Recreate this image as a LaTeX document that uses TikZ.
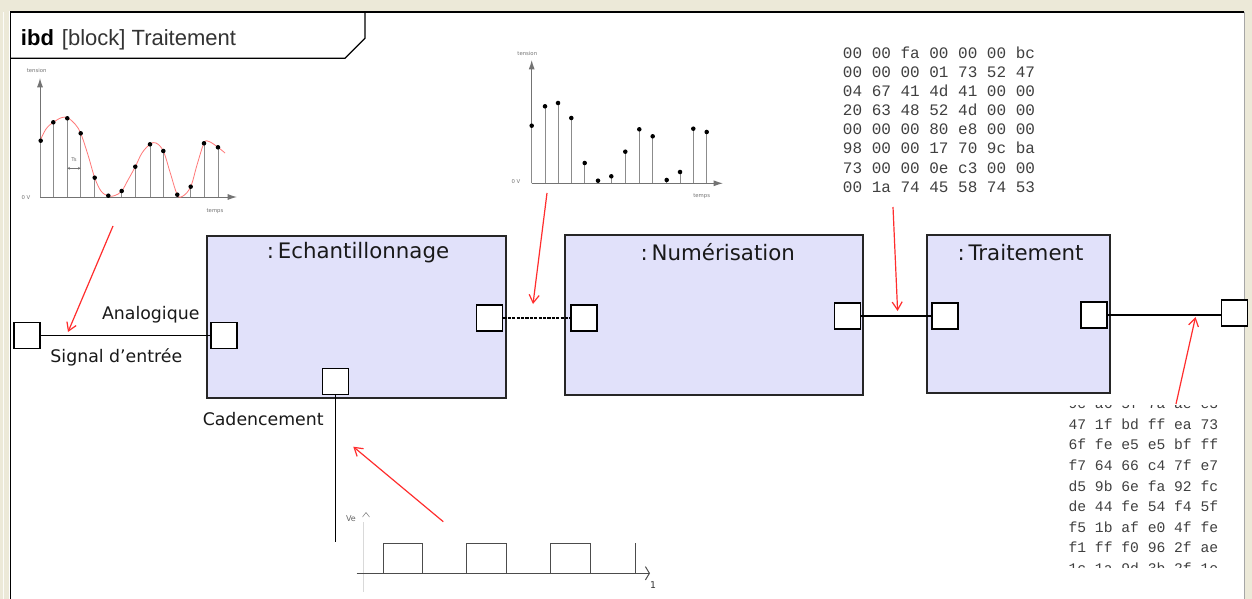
\documentclass[tikz,border=0pt]{standalone}
\usepackage{fontspec}
\setmainfont{DejaVu Sans}
\newfontfamily\hdrfont{Liberation Sans}
\newfontfamily\hexfont{Liberation Mono}
\usetikzlibrary{arrows.meta,fit}
\definecolor{winbg}{HTML}{ECE9D8}
\definecolor{blockfill}{RGB}{225,225,250}
\definecolor{annot}{RGB}{255,45,45}
\definecolor{sinecol}{RGB}{255,120,120}
\begin{document}
\begin{tikzpicture}[x=0.75pt,y=-0.75pt,
  block/.style={draw=black!85, line width=1.1pt, fill=blockfill, inner sep=0pt},
  port/.style={draw=black, line width=1.1pt, fill=white, minimum size=19.5pt, inner sep=0pt},
  conn/.style={draw=black, line width=1.1pt},
  note/.style={draw=annot, line width=0.9pt, -{Straight Barb[length=6pt,width=7.5pt]}},
  axisline/.style={draw=black!55, line width=0.75pt},
  axisarrow/.style={-{Latex[length=7pt,width=4.5pt]}},
  stem/.style={draw=black!45, line width=0.6pt},
  tiny/.style={font=\fontsize{4}{4}\selectfont, text=black!55, inner sep=0pt},
  title/.style={font=\fontsize{16}{19}\selectfont, text=black!90, inner sep=0pt},
  plabel/.style={font=\fontsize{13}{15}\selectfont, text=black!90, inner sep=0pt},
  hextop/.style={font=\hexfont\fontsize{12}{14}\selectfont, text=black!75, inner sep=0pt, anchor=base west},
  hexbot/.style={font=\hexfont\fontsize{11}{13}\selectfont, text=black!75, inner sep=0pt, anchor=base west},
  wave/.style={draw=black!70, line width=0.75pt},
]
\useasboundingbox (0,0) rectangle (1252,599);
% window background
\fill[white] (0,0) rectangle (1252,599);
\fill[winbg] (0,0) rectangle (1252,11);
\fill[winbg] (0,0) rectangle (9,599);
\fill[winbg] (1244,0) rectangle (1252,599);
\draw[white!85!winbg, line width=0.75pt] (3.5,12) -- (3.5,599);
% frame
\draw[black, line width=1.5pt] (10,12.5) -- (1244,12.5);
\draw[black, line width=1.1pt] (10.5,12) -- (10.5,599);
\draw[black!35, line width=0.75pt] (1244,12) -- (1244,599);
% header tab
\draw[black, line width=1pt] (10,58.3) -- (345,58.3) -- (365,38.3) -- (365,12.5);
\node[font=\hdrfont\bfseries\fontsize{16.5}{18}\selectfont, anchor=base west, inner sep=0pt] (ibd) at (20.7,46) {ibd};
\node[font=\hdrfont\fontsize{16.5}{18}\selectfont, text=black!80, anchor=base west, inner sep=0pt] (hdr) at (61.7,46) {[block] Traitement};

% ---------- analog graph (top left) ----------
\draw[axisline, axisarrow] (40,197) -- (40,78);
\draw[axisline, axisarrow] (40,197) -- (237,197);
\foreach \px/\py in {40.7/140.7, 53.3/122.3, 67.3/118.3, 80.7/133.3, 94.7/177.7, 108.3/195.7, 121.7/191, 135.3/166.7, 150/144.3, 163.3/151, 177.3/194.7, 190.7/186.7, 204/143.3, 218/147.3}
  {\draw[stem] (\px,197) -- (\px,\py);}
\draw[sinecol, line width=0.6pt] plot[smooth, tension=0.6] coordinates {(40,141) (46,129) (53.3,122.3) (62,117.5) (68,118) (75,124) (80.7,133.3) (88,155) (94.7,177.7) (101,191) (108.3,196) (115,195.5) (121.7,191) (128,180) (135.3,166.7) (142,153) (150,144.3) (156,143) (163.3,151) (170,172) (177.3,194.7) (183,196) (190.7,186.7) (197,165) (204,143.3) (209,141.5) (218,147.3) (225,153)};
\foreach \px/\py in {40.7/140.7, 53.3/122.3, 67.3/118.3, 80.7/133.3, 94.7/177.7, 108.3/195.7, 121.7/191, 135.3/166.7, 150/144.3, 163.3/151, 177.3/194.7, 190.7/186.7, 204/143.3, 218/147.3}
  {\fill[black] (\px,\py) circle[radius=1.7pt];}
\node[tiny] (g1t) at (36.7,71) {tension};
\node[tiny] (g1v) at (26,197.7) {0 V};
\node[tiny] (g1x) at (215,211) {temps};
\node[tiny] (g1ts) at (74,160) {Ts};
\draw[black!55, line width=0.4pt, {Stealth[length=2pt,width=2pt]}-{Stealth[length=2pt,width=2pt]}] (67.3,168.3) -- (80.7,168.3);

% ---------- sampled graph (top middle) ----------
\draw[axisline, axisarrow] (531.7,183.3) -- (531.7,60);
\draw[axisline, axisarrow] (531.7,183.3) -- (723,183.3);
\foreach \px/\py in {531.7/125.7, 545/106.3, 558/103, 571.3/118, 584.7/163, 598/180.7, 611.3/176.3, 625.3/151.7, 639.3/129.3, 652.7/136.3, 666.7/180, 680/172, 693.3/128.7, 706.7/132}
  {\draw[stem] (\px,183.3) -- (\px,\py); \fill[black] (\px,\py) circle[radius=1.7pt];}
\node[tiny] (g2t) at (527.3,54) {tension};
\node[tiny] (g2v) at (516,181.7) {0 V};
\node[tiny] (g2x) at (701.7,196) {temps};

% ---------- hex dump (top right) ----------
\node[hextop] (ht1) at (842.7,58.5) {00 00 fa 00 00 00 bc};
\node[hextop] (ht2) at (842.7,77.6) {00 00 00 01 73 52 47};
\node[hextop] (ht3) at (842.7,96.7) {04 67 41 4d 41 00 00};
\node[hextop] (ht4) at (842.7,115.8) {20 63 48 52 4d 00 00};
\node[hextop] (ht5) at (842.7,134.9) {00 00 00 80 e8 00 00};
\node[hextop] (ht6) at (842.7,154.0) {98 00 00 17 70 9c ba};
\node[hextop] (ht7) at (842.7,173.1) {73 00 00 0e c3 00 00};
\node[hextop] (ht8) at (842.7,192.2) {00 1a 74 45 58 74 53};

% ---------- hex dump (bottom right) ----------
\begin{scope}
\clip (1058,405) rectangle (1240,567.5);
\node[hexbot] (hb0) at (1068.3,408.8) {9c a6 5f 7a ae e3};
\node[hexbot] (hb1) at (1068.3,429.4) {47 1f bd ff ea 73};
\node[hexbot] (hb2) at (1068.3,449.9) {6f fe e5 e5 bf ff};
\node[hexbot] (hb3) at (1068.3,470.5) {f7 64 66 c4 7f e7};
\node[hexbot] (hb4) at (1068.3,491.0) {d5 9b 6e fa 92 fc};
\node[hexbot] (hb5) at (1068.3,511.6) {de 44 fe 54 f4 5f};
\node[hexbot] (hb6) at (1068.3,532.1) {f5 1b af e0 4f fe};
\node[hexbot] (hb7) at (1068.3,552.7) {f1 ff f0 96 2f ae};
\node[hexbot] (hb8) at (1068.3,573.2) {1c 1a 9d 3b 2f 1e};
\end{scope}

% ---------- clock signal (bottom) ----------
\draw[black!15, line width=0.5pt] (363,522) -- (363,592);
\draw[wave, -{Straight Barb[length=3pt,width=10pt]}] (356.7,573.3) -- (650,573.3);
\draw[wave] (383.3,573.3) |- (422.7,543.3) -- (422.7,573.3);
\draw[wave] (466.7,573.3) |- (506.7,543.3) -- (506.7,573.3);
\draw[wave] (550.7,573.3) |- (590,543.3) -- (590,573.3);
\draw[wave] (635,573.3) -- (635,543.3);
\node[font=\fontsize{6}{6}\selectfont, text=black!60, inner sep=0pt] (ve) at (351,518.5) {Ve};
\draw[black!50, line width=0.4pt] (362.5,517) -- (366,512.5) -- (369.5,517);
\node[font=\fontsize{7}{7}\selectfont, text=black!80, inner sep=0pt] (tlab) at (653,585) {1};

% ---------- blocks ----------
\node[block, fit={(207,236) (506,398)}] (ech) {};
\node[block, fit={(565,235) (863,395)}] (num) {};
\node[block, fit={(927,235) (1110,393)}] (tr) {};
\node[title] (tech) at (358,252.3) {:\hspace{0.18em}Echantillonnage};
\node[title] (tnum) at (717.8,252.3) {:\hspace{0.18em}Numérisation};
\node[title] (ttr) at (1020.5,252.3) {:\hspace{0.18em}Traitement};

% ---------- ports ----------
\node[port] (sigIn) at (27.2,335.5) {};
\node[port] (ana) at (224,335.5) {};
\node[port] (echOut) at (489.7,318) {};
\node[port] (cad) at (335.5,381.3) {};
\node[port] (numIn) at (584,318) {};
\node[port] (numOut) at (847.5,316) {};
\node[port] (trIn) at (945.2,316) {};
\node[port] (trOut) at (1094,315) {};
\node[port] (outR) at (1234.3,313) {};

% ---------- connectors ----------
\draw[conn] (sigIn.east) -- (ana.west);
\draw[black, line width=1.5pt, dash pattern=on 2.4pt off 0.9pt] (echOut.east) -- (numIn.west);
\draw[conn] (numOut.east) -- (trIn.west);
\draw[conn] (trOut.east) -- (trOut.east -| outR.west);
\coordinate (cadEnd) at (335.5,541.7);
\draw[conn] (cad.south) -- (cadEnd);

% ---------- port labels ----------
\node[plabel, anchor=east] (lana) at (199.7,315) {Analogique};
\node[plabel, anchor=west] (lsig) at (50.2,357) {Signal d'entrée};
\node[plabel, anchor=west] (lcad) at (202.5,419) {Cadencement};

% ---------- red annotation arrows ----------
\coordinate (a1s) at (113,226); \coordinate (a1e) at (68,332);
\coordinate (a2s) at (547,193); \coordinate (a2e) at (533,304);
\coordinate (a3s) at (893,207); \coordinate (a3e) at (897.6,311);
\coordinate (a4s) at (1176,404); \coordinate (a4e) at (1195.5,317);
\coordinate (a5s) at (443.3,521.7); \coordinate (a5e) at (353.3,446.7);
\draw[note] (a1s) -- (a1e);
\draw[note] (a2s) -- (a2e);
\draw[note] (a3s) -- (a3e);
\draw[note] (a4s) -- (a4e);
\draw[note] (a5s) -- (a5e);
\end{tikzpicture}
\end{document}
